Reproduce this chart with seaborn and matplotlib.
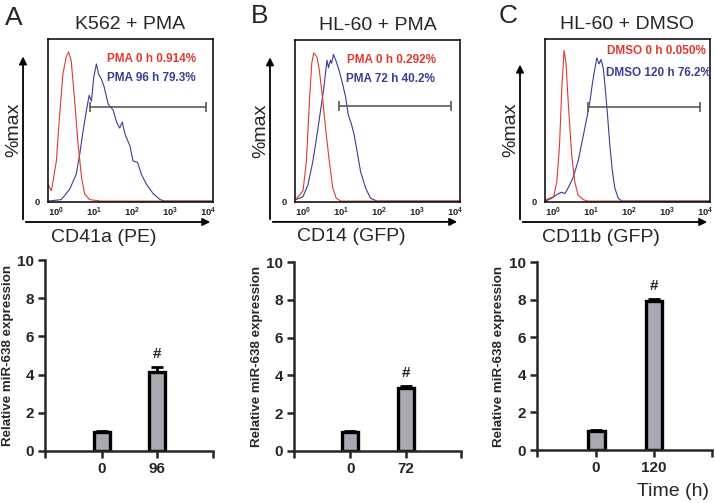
import numpy as np
import pandas as pd
import seaborn as sns
import matplotlib.pyplot as plt

sns.set_style("white")
plt.rcParams['font.family'] = ['Liberation Sans', 'DejaVu Sans']
plt.rcParams['mathtext.default'] = 'regular'

W, H = 715, 503

# flow histograms: x in log10 units (decades), y in %max
a_red_log = [-0.2, -0.11, 0.02, 0.1, 0.19, 0.28, 0.34, 0.41, 0.5, 0.59, 0.68, 0.76, 0.89, 1.2, 4.13]
a_red_pct = [11, 7, 27, 56, 85, 97, 100, 94, 67, 38, 16, 5, 1, 0, 0]
a_blue_log = [-0.2, 0.15, 0.37, 0.54, 0.63, 0.72, 0.81, 0.88, 0.94, 1.0, 1.07, 1.13, 1.2, 1.27, 1.38,
              1.51, 1.6, 1.68, 1.75, 1.82, 1.95, 2.03, 2.15, 2.25, 2.39, 2.56, 2.74, 2.87, 4.13]
a_blue_pct = [0, 1, 8, 18, 31, 47, 61, 71, 67, 83, 92, 85, 82, 77, 65,
              61, 53, 49, 53, 45, 37, 27, 26, 18, 11, 5, 1, 0, 0]

b_red_log = [-0.18, 0.01, 0.1, 0.18, 0.24, 0.29, 0.38, 0.44, 0.53, 0.61, 0.7, 0.79, 0.88, 1.0, 4.13]
b_red_pct = [1, 7, 27, 68, 93, 100, 97, 88, 68, 47, 27, 9, 2, 0, 0]
b_blue_log = [-0.18, 0.01, 0.14, 0.27, 0.38, 0.47, 0.55, 0.64, 0.68, 0.73, 0.76, 0.81, 0.87, 0.96,
              1.05, 1.13, 1.2, 1.28, 1.35, 1.44, 1.52, 1.65, 1.78, 1.95, 4.13]
b_blue_pct = [1, 3, 11, 27, 45, 61, 75, 95, 90, 95, 93, 99, 95, 88,
              79, 70, 58, 52, 45, 32, 20, 9, 2, 0, 0]

c_red_log = [-0.18, 0.03, 0.11, 0.18, 0.24, 0.3, 0.35, 0.41, 0.5, 0.58, 0.67, 0.8, 0.92, 4.13]
c_red_pct = [1, 3, 13, 37, 75, 101, 93, 66, 31, 13, 4, 1, 0, 0]
c_blue_log = [-0.18, -0.02, 0.15, 0.24, 0.32, 0.41, 0.54, 0.67, 0.79, 0.9, 0.98, 1.05, 1.11, 1.16,
              1.22, 1.27, 1.33, 1.38, 1.44, 1.5, 1.56, 1.63, 1.72, 1.82, 4.13]
c_blue_pct = [0, 2, 5, 6, 5, 9, 16, 27, 42, 56, 67, 80, 89, 96,
              92, 95, 89, 76, 58, 38, 22, 9, 2, 0, 0]

gates_log = [(0.89, 3.94, 63), (0.96, 3.9, 64), (0.92, 3.87, 63)]

titles = ["K562 + PMA", "HL-60 + PMA", "HL-60 + DMSO"]
panel_letters = ["A", "B", "C"]
x_labels = ["CD41a (PE)", "CD14 (GFP)", "CD11b (GFP)"]
red_labels = ["PMA 0 h 0.914%", "PMA 0 h 0.292%", "DMSO 0 h 0.050%"]
blue_labels = ["PMA 96 h 79.3%", "PMA 72 h 40.2%", "DMSO 120 h 76.2%"]

# qPCR bars
times = [["0", "96"], ["0", "72"], ["0", "120"]]
expr = [[1.0, 4.15], [1.0, 3.35], [1.0, 7.9]]
expr_err = [[0.04, 0.27], [0.04, 0.1], [0.04, 0.15]]

RED = '#e2392f'
BLUE = '#3b3d96'


def px_axes(l, t, r, b):
    return fig.add_axes([l / W, 1 - b / H, (r - l) / W, (b - t) / H])


fig = plt.figure(figsize=(7.15, 5.03), dpi=100)

hist_boxes = [(48, 39, 213, 202), (295, 40, 460, 202), (545, 39, 710, 202)]
letter_pos = [(14, 18), (260, 16), (508, 16)]
red_lbl_pos = [(0.356, 0.877), (0.315, 0.877), (0.376, 0.926)]
blue_lbl_pos = [(0.356, 0.761), (0.31, 0.761), (0.37, 0.79)]
arrow_tip = [0.91, 0.91, 0.86]
curves = [(a_red_log, a_red_pct, a_blue_log, a_blue_pct),
          (b_red_log, b_red_pct, b_blue_log, b_blue_pct),
          (c_red_log, c_red_pct, c_blue_log, c_blue_pct)]

for i in range(3):
    ax = px_axes(*hist_boxes[i])
    rl, rp, bl, bp = curves[i]
    sns.lineplot(x=10 ** np.array(bl), y=bp, color=BLUE, lw=0.8, ax=ax)
    sns.lineplot(x=10 ** np.array(rl), y=rp, color=RED, lw=0.8, ax=ax)
    g0, g1, gy = gates_log[i]
    ax.plot([10 ** g0, 10 ** g1], [gy, gy], color='#5a5a5a', lw=1.2,
            marker='|', markersize=7, markeredgewidth=1.2)
    ax.set_xscale('log')
    ax.set_xlim(10 ** -0.2, 10 ** 4.13)
    ax.set_ylim(-0.6, 108.7)
    ax.set_xticks([1, 10, 100, 1000, 10000])
    ax.minorticks_off()
    ax.set_yticks([0])
    ax.set_yticklabels(['0'])
    ax.tick_params(axis='both', length=0, labelsize=6.8)
    ax.tick_params(axis='x', pad=3)
    ax.tick_params(axis='y', pad=6)
    for lab in ax.get_xticklabels() + ax.get_yticklabels():
        lab.set_fontweight('bold')
    ax.set_xlabel('')
    ax.set_ylabel('')
    for s in ax.spines.values():
        s.set_linewidth(1.1)
        s.set_color('black')
    # outer arrows
    ox, oy = -25 / 165, -20 / 163
    ax.annotate('', xy=(ox, arrow_tip[i]), xytext=(ox, oy), xycoords='axes fraction',
                arrowprops=dict(arrowstyle='-|>', lw=1.3, color='black', mutation_scale=11),
                annotation_clip=False)
    ax.annotate('', xy=(1.0, oy), xytext=(ox, oy), xycoords='axes fraction',
                arrowprops=dict(arrowstyle='-|>', lw=1.3, color='black', mutation_scale=11),
                annotation_clip=False)
    ax.text(-34 / 165, 0.44, '%max', rotation=90, ha='center', va='center',
            fontsize=14, transform=ax.transAxes)
    ax.text(0.34, -0.215, x_labels[i], ha='center', va='center', fontsize=14,
            transform=ax.transAxes)
    ax.text(0.5, 1.09, titles[i], ha='center', va='center', fontsize=14,
            transform=ax.transAxes)
    ax.text(*red_lbl_pos[i], red_labels[i], color=RED, fontsize=8.5, fontweight='bold',
            ha='left', va='center', transform=ax.transAxes)
    ax.text(*blue_lbl_pos[i], blue_labels[i], color=BLUE, fontsize=8.5, fontweight='bold',
            ha='left', va='center', transform=ax.transAxes)
    fig.text(letter_pos[i][0] / W, 1 - letter_pos[i][1] / H, panel_letters[i],
             fontsize=19, ha='center', va='center')

bar_boxes = [(45, 260, 213, 451), (294, 262, 461, 451), (537, 262, 712, 450)]
for i in range(3):
    ax = px_axes(*bar_boxes[i])
    df = pd.DataFrame({'time': times[i], 'expr': expr[i]})
    sns.barplot(data=df, x='time', y='expr', order=times[i], color='#a8a8b0', saturation=1,
                edgecolor='black', linewidth=2.4, width=0.29, errorbar=None, ax=ax)
    ax.errorbar([0, 1], expr[i], yerr=[[0, 0], expr_err[i]], fmt='none', ecolor='black',
                elinewidth=2, capsize=4, capthick=2, zorder=1)
    top = expr[i][1] + expr_err[i][1]
    ax.text(1, top + 0.3, '#', ha='center', va='bottom', fontsize=11, fontweight='bold')
    ax.set_xlim(-1.02, 2.0)
    ax.set_ylim(0, 10)
    ax.set_yticks([0, 2, 4, 6, 8, 10])
    ax.set_xticks([-1.02, 2.0], minor=True)
    sns.despine(ax=ax)
    for s in ['left', 'bottom']:
        ax.spines[s].set_linewidth(1.8)
    ax.tick_params(axis='both', which='both', length=5, width=1.8, labelsize=11,
                   direction='out', left=True, bottom=True, pad=3)
    for lab in ax.get_xticklabels() + ax.get_yticklabels():
        lab.set_fontweight('bold')
    ax.set_xlabel('')
    ax.set_ylabel('Relative miR-638 expression', fontsize=9.6, fontweight='bold')
    ax.yaxis.set_label_coords(-31 / 168, 0.5)

fig.text(673 / W, 1 - 492 / H, 'Time (h)', fontsize=14, ha='center', va='center')

fig.savefig('out.png', dpi=100)
